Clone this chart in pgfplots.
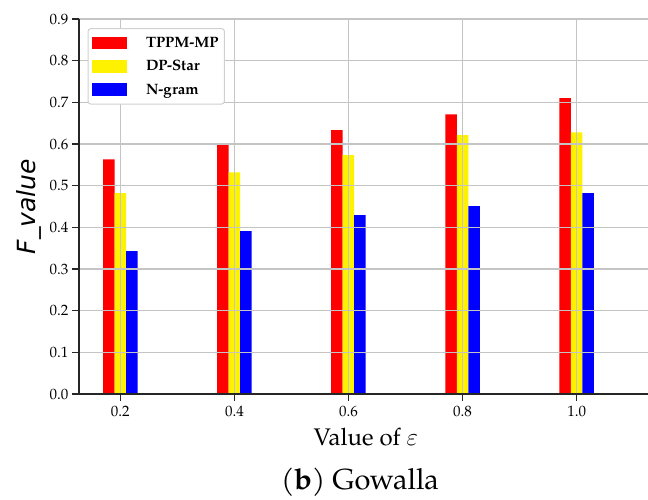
\documentclass[border=0pt]{standalone}
\usepackage{fontspec}
\setmainfont{TeX Gyre Pagella}
\newfontfamily\dejavu{DejaVu Sans}
\usepackage{pgfplots}
\pgfplotsset{compat=1.18}
\definecolor{gridgray}{HTML}{C4C4C4}
\definecolor{legborder}{HTML}{D0D0D0}
\pgfplotsset{barleg/.style={legend image code/.code={\fill[##1, sharp corners] (0pt,-6.3pt) rectangle (35pt,6.3pt);}}}
\begin{document}
\begin{tikzpicture}
\useasboundingbox (0pt,0pt) rectangle (648pt,500pt);
\begin{axis}[
  at={(79pt,106pt)}, anchor=south west,
  scale only axis, width=569pt, height=375pt,
  xmin=0.1276, xmax=1.125, ymin=0, ymax=0.9,
  axis x line*=bottom, axis y line*=left,
  axis line style={line width=1.3pt, black!85},
  xtick={0.2,0.4,0.6,0.8,1.0},
  ytick={0,0.1,0.2,0.3,0.4,0.5,0.6,0.7,0.8,0.9},
  tick align=outside, major tick length=7pt,
  tick style={line width=1.1pt, black!85},
  grid=major, major grid style={line width=1.3pt, gridgray},
  axis on top,
  /pgf/number format/assume math mode=true,
  /pgf/number format/.cd, fixed, fixed zerofill, precision=1, /pgfplots/.cd,
  ticklabel style={font=\fontsize{15}{15}\selectfont},
  xticklabel style={yshift=-2pt},
  xlabel={Value of $\varepsilon$},
  xlabel style={font=\fontsize{24}{24}\selectfont, at={(axis description cs:0.504,-0.115)}, anchor=center},
  ylabel={\dejavu\itshape F\_value},
  ylabel style={font=\fontsize{25}{25}\selectfont, at={(axis description cs:-0.088,0.5)}, anchor=center},
  ybar, bar width=11.5pt,
  every axis plot post/.append style={barleg},
  legend cell align=left,
  legend style={at={(0,1)}, anchor=north west, xshift=8.5pt, yshift=-9pt,
    draw=legborder, line width=1pt, rounded corners=3pt,
    font=\bfseries\fontsize{15}{15}\selectfont,
    inner xsep=4pt, inner ysep=3pt,
    nodes={text height=11.5pt, text depth=2.5pt, inner ysep=4.6pt},
    /tikz/every odd column/.append style={column sep=17pt}},
]
\addplot[fill=red, draw=none, bar shift=-11.5pt]
  coordinates {(0.2,0.563) (0.4,0.601) (0.6,0.633) (0.8,0.671) (1.0,0.710)};
\addplot[fill=yellow, draw=none, bar shift=0pt]
  coordinates {(0.2,0.482) (0.4,0.532) (0.6,0.573) (0.8,0.621) (1.0,0.628)};
\addplot[fill=blue, draw=none, bar shift=11.5pt]
  coordinates {(0.2,0.343) (0.4,0.391) (0.6,0.429) (0.8,0.451) (1.0,0.482)};
\legend{TPPM-MP, DP-Star, N-gram}
\end{axis}
\node[font=\fontsize{29}{29}\selectfont, anchor=center] at (360pt,18pt) {(\textbf{b}) Gowalla};
\end{tikzpicture}
\end{document}
